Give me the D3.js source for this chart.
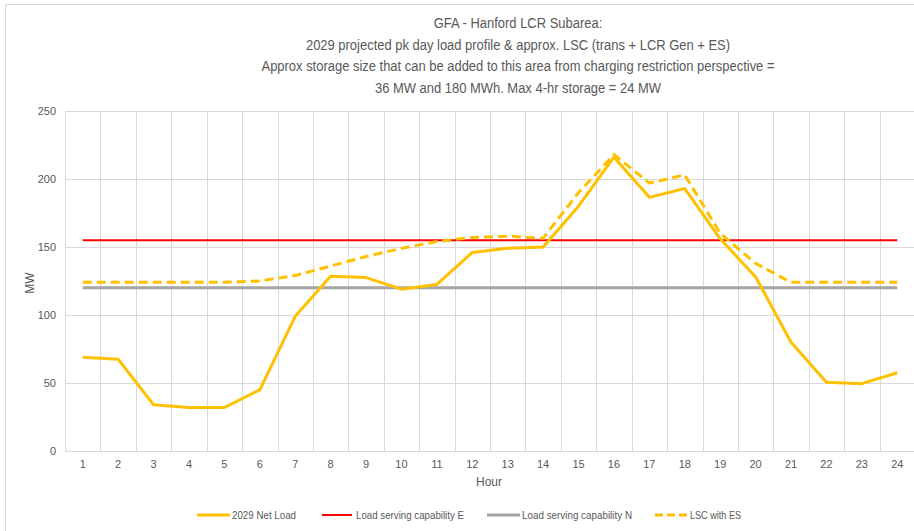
<!DOCTYPE html>
<html>
<head>
<meta charset="utf-8">
<script src="https://cdn.jsdelivr.net/npm/d3@7"></script>
<style>
  body { margin: 0; background: #fff; }
  svg text { font-family: "Liberation Sans Narrow", "Liberation Sans", Arial, sans-serif; fill: #595959; }
</style>
</head>
<body>
<svg id="chart" width="914" height="531"></svg>
<script>
// hours along the x axis
const hours = [1, 2, 3, 4, 5, 6, 7, 8, 9, 10, 11, 12, 13, 14, 15, 16, 17, 18, 19, 20, 21, 22, 23, 24];

// series values (MW)
const netLoad = [69, 67.5, 34, 32, 32, 45, 99, 128.5, 127.5, 119, 122.5, 146, 149, 150, 180, 216, 186.5, 193, 156, 128, 80, 50.5, 49.5, 57.5];
const lscE = [155, 155, 155, 155, 155, 155, 155, 155, 155, 155, 155, 155, 155, 155, 155, 155, 155, 155, 155, 155, 155, 155, 155, 155];
const lscN = [120, 120, 120, 120, 120, 120, 120, 120, 120, 120, 120, 120, 120, 120, 120, 120, 120, 120, 120, 120, 120, 120, 120, 120];
const lscES = [124, 124, 124, 124, 124, 125, 129, 136, 143, 149, 154, 157, 158, 156.5, 190, 218, 197, 203, 160, 138, 124, 124, 124, 124];

const yTicks = [0, 50, 100, 150, 200, 250];

const titleLines = [
  "GFA - Hanford LCR Subarea:",
  "2029 projected pk day load profile & approx. LSC (trans + LCR Gen + ES)",
  "Approx storage size that can be added to this area from charging restriction perspective =",
  "36 MW and 180 MWh. Max 4-hr storage = 24 MW"
];

const series = [
  { name: "2029 Net Load", values: netLoad, color: "#FFC000", width: 3, dash: null },
  { name: "Load serving capability E", values: lscE, color: "#FF0000", width: 2, dash: null },
  { name: "Load serving capability N", values: lscN, color: "#A5A5A5", width: 3, dash: null },
  { name: "LSC with ES", values: lscES, color: "#FFC000", width: 3, dash: "9,5" }
];

const svg = d3.select("#chart");
const margin = { top: 111, right: -1, bottom: 80, left: 65 };
const width = +svg.attr("width");
const height = +svg.attr("height");

// chart frame (cropped)
svg.append("line").attr("x1", 5.5).attr("x2", width).attr("y1", 4.5).attr("y2", 4.5)
  .attr("stroke", "#d9d9d9");
svg.append("line").attr("x1", 5.5).attr("x2", 5.5).attr("y1", 4.5).attr("y2", height)
  .attr("stroke", "#d9d9d9");

const xScale = d3.scaleBand()
  .domain(hours)
  .range([margin.left, width - margin.right])
  .padding(0);
const yScale = d3.scaleLinear()
  .domain([0, 250])
  .range([height - margin.bottom, margin.top]);

const cx = (h) => xScale(h) + xScale.bandwidth() / 2;

// grid
const grid = svg.append("g");
grid.selectAll(".hg").data(yTicks).enter().append("line")
  .attr("x1", margin.left).attr("x2", width - margin.right)
  .attr("y1", (d) => Math.round(yScale(d)) + 0.5)
  .attr("y2", (d) => Math.round(yScale(d)) + 0.5)
  .attr("stroke", "#d9d9d9");
const bounds = hours.map((h) => xScale(h)).concat([xScale(hours[hours.length - 1]) + xScale.bandwidth()]);
grid.selectAll(".vg").data(bounds).enter().append("line")
  .attr("x1", (d) => Math.round(d) + 0.5).attr("x2", (d) => Math.round(d) + 0.5)
  .attr("y1", yScale(250)).attr("y2", yScale(0))
  .attr("stroke", "#d9d9d9");

// axes
const yAxis = d3.axisLeft(yScale).tickValues(yTicks).tickSize(0).tickPadding(9);
svg.append("g")
  .attr("transform", "translate(" + margin.left + ",0)")
  .call(yAxis)
  .call((g) => g.select(".domain").remove())
  .selectAll("text").style("font-size", "11px");

const xAxis = d3.axisBottom(xScale).tickSize(0).tickPadding(9);
svg.append("g")
  .attr("transform", "translate(0," + yScale(0) + ")")
  .call(xAxis)
  .call((g) => g.select(".domain").remove())
  .selectAll("text").style("font-size", "11px");

svg.append("text")
  .attr("x", 489).attr("y", 486)
  .attr("text-anchor", "middle")
  .style("font-size", "12px")
  .text("Hour");
svg.append("text")
  .attr("transform", "translate(34,283) rotate(-90)")
  .attr("text-anchor", "middle")
  .style("font-size", "12px")
  .text("MW");

// lines
const line = d3.line()
  .x((d, i) => cx(hours[i]))
  .y((d) => yScale(d));

const drawOrder = [series[1], series[2], series[3], series[0]];
svg.append("g").selectAll("path").data(drawOrder).enter().append("path")
  .attr("d", (s) => line(s.values))
  .attr("fill", "none")
  .attr("stroke", (s) => s.color)
  .attr("stroke-width", (s) => s.width)
  .attr("stroke-dasharray", (s) => s.dash)
  .attr("stroke-linejoin", "round");

// title: fit widths so the longest line is ~513px, then squeeze a taller font into those widths
const titles = svg.append("g").selectAll("text").data(titleLines).enter().append("text")
  .attr("x", 518)
  .attr("y", (d, i) => 28 + i * 21.7)
  .attr("text-anchor", "middle")
  .style("font-size", "16px")
  .text((d) => d);
const k = 513 / titles.nodes()[2].getComputedTextLength();
const natural = titles.nodes().map((n) => n.getComputedTextLength() * k);
titles
  .style("font-size", "15.5px")
  .attr("textLength", (d, i) => natural[i].toFixed(1))
  .attr("lengthAdjust", "spacingAndGlyphs");

// legend
const legendX = [197, 322, 487, 655];
const legendW = [64, 108, 110, 51];
const legend = svg.append("g");
series.forEach((s, i) => {
  const g = legend.append("g").attr("transform", "translate(" + legendX[i] + ",515)");
  g.append("line")
    .attr("x1", 0).attr("x2", i === 3 ? 32 : (i === 1 ? 30 : 33))
    .attr("y1", 0).attr("y2", 0)
    .attr("stroke", s.color)
    .attr("stroke-width", s.width)
    .attr("stroke-dasharray", s.dash ? "8,4" : null);
  g.append("text")
    .attr("x", i === 1 ? 34 : 35).attr("y", 4)
    .attr("textLength", legendW[i])
    .attr("lengthAdjust", "spacingAndGlyphs")
    .style("font-size", "11px")
    .text(s.name);
});
</script>
</body>
</html>
